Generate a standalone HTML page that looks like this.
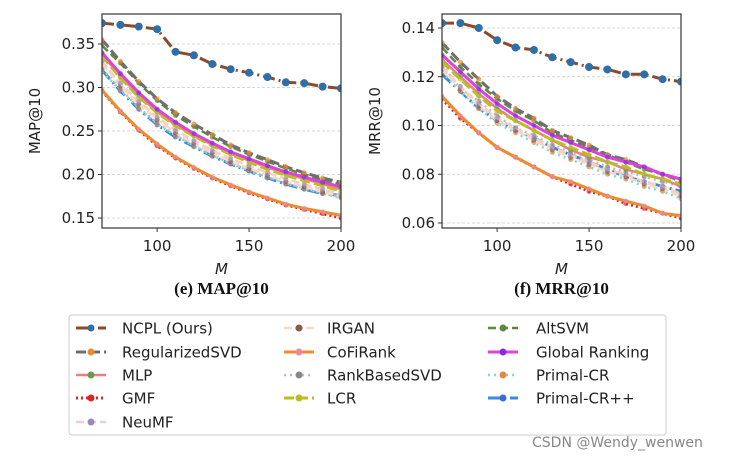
<!DOCTYPE html>
<html><head><meta charset="utf-8">
<style>
body{margin:0;background:#fff;width:737px;height:461px;overflow:hidden;font-family:"Liberation Sans","DejaVu Sans",sans-serif}
svg text{font-family:"DejaVu Sans","Liberation Sans",sans-serif}
svg text.cap{font-family:"Liberation Serif",serif}
</style></head>
<body>
<svg id="chart" width="737" height="461" xmlns="http://www.w3.org/2000/svg"></svg>
<script>
const mValues=[70,80,90,100,110,120,130,140,150,160,170,180,190,200];
const seriesNames=["NCPL (Ours)","RegularizedSVD","MLP","GMF","NeuMF","IRGAN","CoFiRank","RankBasedSVD","LCR","AltSVM","Global Ranking","Primal-CR","Primal-CR++"];
const mapNCPL=[.374,.372,.370,.367,.341,.337,.327,.321,.317,.312,.306,.305,.301,.299];
const mapRegSVD=[.355,.330,.307,.287,.271,.258,.246,.234,.225,.217,.209,.202,.196,.191];
const mapMLP=[.338,.313,.291,.272,.257,.245,.234,.224,.216,.208,.201,.195,.189,.183];
const mapGMF=[.296,.272,.251,.233,.219,.207,.196,.187,.179,.172,.165,.160,.155,.150];
const mapNeuMF=[.330,.305,.284,.266,.251,.239,.228,.218,.210,.202,.195,.189,.183,.178];
const mapIRGAN=[.328,.302,.281,.263,.248,.236,.225,.215,.207,.199,.192,.186,.180,.175];
const mapCoFiRank=[.297,.273,.252,.235,.220,.208,.197,.188,.180,.173,.166,.161,.157,.153];
const mapRankSVD=[.322,.298,.277,.259,.245,.233,.222,.213,.204,.197,.190,.184,.179,.174];
const mapLCR=[.336,.311,.289,.271,.256,.244,.233,.223,.214,.206,.199,.193,.187,.181];
const mapAltSVM=[.348,.328,.305,.285,.268,.255,.243,.232,.223,.215,.207,.200,.194,.188];
const mapGlobal=[.340,.316,.294,.275,.260,.247,.236,.226,.218,.210,.203,.197,.191,.186];
const mapPrimalCR=[.318,.297,.276,.258,.245,.233,.222,.213,.205,.197,.190,.184,.178,.173];
const mapPrimalCRpp=[.320,.296,.275,.257,.243,.232,.221,.212,.204,.196,.189,.183,.178,.176];
const mrrNCPL=[.142,.142,.140,.135,.132,.131,.128,.126,.124,.123,.121,.121,.119,.118];
const mrrRegSVD=[.134,.126,.119,.112,.107,.103,.098,.095,.092,.088,.086,.083,.080,.078];
const mrrMLP=[.127,.120,.113,.107,.102,.098,.094,.090,.087,.085,.082,.080,.078,.075];
const mrrGMF=[.111,.103,.097,.091,.087,.083,.079,.076,.073,.071,.068,.066,.064,.062];
const mrrNeuMF=[.124,.116,.109,.103,.099,.095,.091,.088,.085,.082,.080,.077,.075,.072];
const mrrIRGAN=[.123,.115,.108,.102,.098,.094,.090,.087,.084,.081,.079,.076,.074,.071];
const mrrCoFiRank=[.112,.104,.097,.091,.087,.083,.079,.077,.074,.071,.069,.067,.064,.063];
const mrrRankSVD=[.125,.115,.110,.104,.099,.096,.092,.089,.086,.083,.081,.079,.077,.075];
const mrrLCR=[.126,.119,.112,.106,.102,.098,.094,.091,.088,.085,.083,.080,.078,.076];
const mrrAltSVM=[.132,.124,.117,.111,.106,.102,.097,.094,.091,.088,.085,.082,.080,.077];
const mrrGlobal=[.129,.122,.115,.109,.104,.100,.096,.093,.090,.087,.085,.083,.080,.078];
const mrrPrimalCR=[.122,.114,.107,.101,.097,.093,.089,.086,.083,.080,.078,.075,.073,.070];
const mrrPrimalCRpp=[.121,.114,.107,.102,.098,.095,.091,.088,.085,.082,.079,.077,.075,.073];
const mapTicks=[0.15,0.20,0.25,0.30,0.35];
const mrrTicks=[0.06,0.08,0.10,0.12,0.14];
const xTicks=[100,150,200];

const styles=[
 {c:"#8c4a2b",d:"12,4,2,4",w:3,mc:"#2f6fa8"},
 {c:"#6f6f6f",d:"10,4",w:3,mc:"#f08a30"},
 {c:"#e88080",d:"",w:2.5,mc:"#6a9a50"},
 {c:"#d62728",d:"2,3",w:3,mc:"#d62728"},
 {c:"#f7cdc8",d:"8,4",w:2.5,mc:"#9a88b8"},
 {c:"#f3dcc4",d:"8,3",w:2.5,mc:"#8c564b"},
 {c:"#f08a30",d:"",w:3,mc:"#e78aa0"},
 {c:"#bdbdbd",d:"2,4",w:2.5,mc:"#888"},
 {c:"#bcbd22",d:"10,4",w:3,mc:"#bcbd22"},
 {c:"#5f8a3a",d:"8,4",w:2.5,mc:"#5f8a3a"},
 {c:"#e040e0",d:"",w:3,mc:"#8a2be2"},
 {c:"#7fd8e0",d:"2,4",w:2.5,mc:"#e08a40"},
 {c:"#3a8ad8",d:"12,4,2,4",w:3,mc:"#3a6ad8"}
];
const mapData=[mapNCPL,mapRegSVD,mapMLP,mapGMF,mapNeuMF,mapIRGAN,mapCoFiRank,mapRankSVD,mapLCR,mapAltSVM,mapGlobal,mapPrimalCR,mapPrimalCRpp];
const mrrData=[mrrNCPL,mrrRegSVD,mrrMLP,mrrGMF,mrrNeuMF,mrrIRGAN,mrrCoFiRank,mrrRankSVD,mrrLCR,mrrAltSVM,mrrGlobal,mrrPrimalCR,mrrPrimalCRpp];
const drawOrder=[12,11,7,5,4,3,6,2,8,9,1,10,0];

const svg=document.getElementById('chart');
const NS="http://www.w3.org/2000/svg";
function mk(tag,attrs,parent){const e=document.createElementNS(NS,tag);for(const k in attrs)e.setAttribute(k,attrs[k]);(parent||svg).appendChild(e);return e;}

function panel(key,x0,x1,y0,y1,vLo,yLo,vHi,yHi,ticks,fmt,data,ylabel,title){
  const g=mk('g',{});
  
  
  const sx=v=>x0+(v-70)/(200-70)*(x1-x0);
  const sy=v=>yLo+(v-vLo)/(vHi-vLo)*(yHi-yLo);
  ticks.forEach(t=>{
    const gl=mk('line',{x1:x0,x2:x1,y1:sy(t),y2:sy(t),stroke:"#ccc","stroke-width":0.8,"stroke-dasharray":"3,2"},g);
    
    
    mk('line',{x1:x0-4,x2:x0,y1:sy(t),y2:sy(t),stroke:"#333"},g);
    const tl=mk('text',{x:x0-7,y:sy(t)+5,"text-anchor":"end","font-size":15,fill:"#222"},g);
    tl.textContent=t.toFixed(fmt);
    
    
  });
  xTicks.forEach(t=>{
    mk('line',{x1:sx(t),x2:sx(t),y1:y1,y2:y1+4,stroke:"#333"},g);
    const tl=mk('text',{x:sx(t),y:y1+23,"text-anchor":"middle","font-size":15,fill:"#222"},g);
    tl.textContent=t;
    
    
  });
  const clip=mk('clipPath',{id:'clip-'+key},g);
  mk('rect',{x:x0,y:y0,width:x1-x0,height:y1-y0},clip);
  const sg=mk('g',{"clip-path":"url(#clip-"+key+")"},g);
  drawOrder.forEach(i=>{
    const s=styles[i];
    const pts=mValues.map((m,j)=>sx(m).toFixed(1)+','+sy(data[i][j]).toFixed(1)).join(' ');
    const pl=mk('polyline',{points:pts,fill:"none",stroke:s.c,"stroke-width":s.w,"stroke-dasharray":s.d,"stroke-linejoin":"round"},sg);
    
    
    mValues.forEach((m,j)=>{
      const c=mk('circle',{cx:sx(m),cy:sy(data[i][j]),r:i==0?4:2.5,fill:s.mc,opacity:i==0?1:0.7},sg);
      
      
    });
  });
  const fr=mk('rect',{x:x0,y:y0,width:x1-x0,height:y1-y0,fill:"none",stroke:"#333","stroke-width":1.2},g);
  
  
  const yl=mk('text',{x:0,y:0,transform:`translate(${x0-62},${(y0+y1)/2}) rotate(-90)`,"text-anchor":"middle","font-size":15,fill:"#222"},g);
  yl.textContent=ylabel;
  
  
  const xl=mk('text',{x:(x0+x1)/2,y:y1+46,"text-anchor":"middle","font-size":15,"font-style":"italic",fill:"#222"},g);
  xl.textContent="M";
  
  
  const tt=mk('text',{x:(x0+x1)/2,y:y1+66,"text-anchor":"middle","font-size":17,"font-weight":"bold",fill:"#111","class":"cap"},g);
  tt.textContent=title;
  
  
}
panel('map',102,341,14,228,0.15,218,0.35,44,mapTicks,2,mapData,"MAP@10","(e) MAP@10");
panel('mrr',442,681,14,228,0.06,223,0.14,28,mrrTicks,2,mrrData,"MRR@10","(f) MRR@10");

// legend
const lg=mk('g',{});


mk('rect',{x:69,y:315,width:597,height:120,fill:"#fff",stroke:"#ccc","stroke-width":1,rx:3},lg);
const colX=[[76,122],[284,327],[488,536]];
const rowY=[328,352,375,398,422];
const legendPos=[[0,0],[0,1],[0,2],[0,3],[0,4],[1,0],[1,1],[1,2],[1,3],[2,0],[2,1],[2,2],[2,3]];
seriesNames.forEach((n,i)=>{
  const [c,r]=legendPos[i];const s=styles[i];
  const e=mk('g',{},lg);
  
  
  const hx=colX[c][0],y=rowY[r];
  mk('line',{x1:hx,x2:hx+30,y1:y,y2:y,stroke:s.c,"stroke-width":s.w,"stroke-dasharray":s.d},e);
  mk('circle',{cx:hx+15,cy:y,r:3.5,fill:s.mc},e);
  const t=mk('text',{x:colX[c][1],y:y+5.5,"font-size":15,fill:"#222"},e);
  t.textContent=n;
});
const wm=mk('text',{x:532,y:447,"font-size":14,fill:"#888"});
wm.textContent="CSDN @Wendy_wenwen";


</script>
</body></html>
